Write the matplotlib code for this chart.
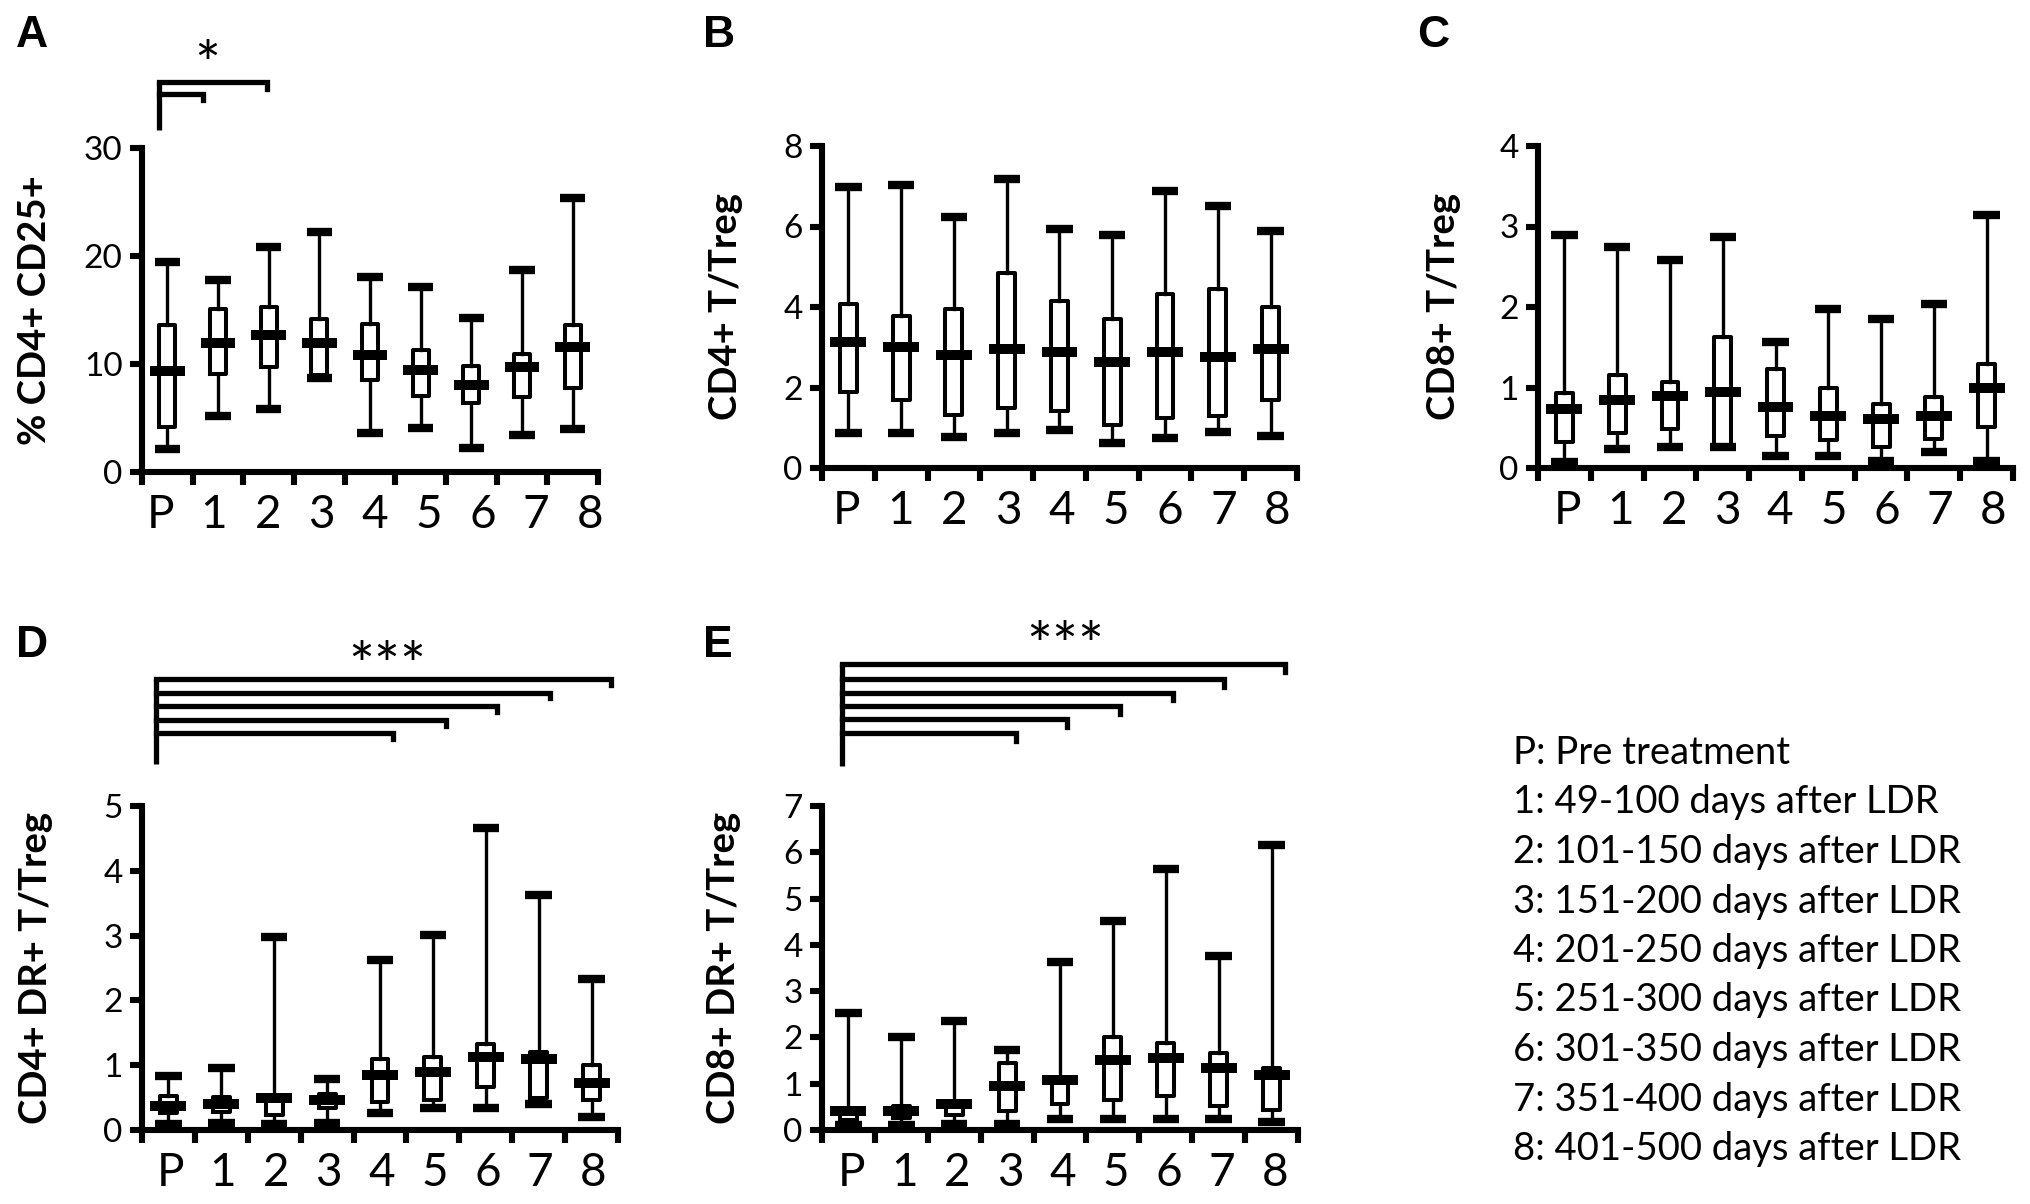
"""Box plots of Treg related T cell ratios before and after LDR (panels A-E)."""

import numpy as np
import matplotlib
matplotlib.use('Agg')
from matplotlib import pyplot as plt


# =============================================================================
# Data
# =============================================================================
groups = ['P', '1', '2', '3', '4', '5', '6', '7', '8']

# A: % CD4+ CD25+
a_low = [2.1, 5.2, 5.8, 8.7, 3.65, 4.05, 2.25, 3.4, 4.0]
a_q1 = [4.2, 9.1, 9.7, 9.0, 8.5, 7.05, 6.35, 6.95, 7.8]
a_med = [9.35, 11.9, 12.7, 11.9, 10.8, 9.45, 8.1, 9.7, 11.6]
a_q3 = [13.6, 15.1, 15.3, 14.2, 13.75, 11.3, 9.85, 10.9, 13.6]
a_high = [19.4, 17.8, 20.8, 22.2, 18.1, 17.1, 14.25, 18.7, 25.4]

# B: CD4+ T/Treg
b_low = [0.88, 0.88, 0.78, 0.88, 0.95, 0.62, 0.75, 0.9, 0.8]
b_q1 = [1.88, 1.7, 1.31, 1.48, 1.41, 1.06, 1.24, 1.28, 1.7]
b_med = [3.14, 3.0, 2.8, 2.96, 2.87, 2.63, 2.87, 2.76, 2.96]
b_q3 = [4.08, 3.78, 3.96, 4.85, 4.16, 3.71, 4.33, 4.44, 4.0]
b_high = [6.97, 7.03, 6.23, 7.18, 5.94, 5.79, 6.88, 6.5, 5.88]

# C: CD8+ T/Treg
c_low = [0.07, 0.24, 0.26, 0.26, 0.15, 0.15, 0.09, 0.2, 0.09]
c_q1 = [0.32, 0.44, 0.49, 0.28, 0.4, 0.35, 0.26, 0.36, 0.51]
c_med = [0.73, 0.85, 0.9, 0.94, 0.76, 0.65, 0.61, 0.65, 1.0]
c_q3 = [0.93, 1.15, 1.07, 1.63, 1.23, 1.0, 0.8, 0.88, 1.29]
c_high = [2.9, 2.74, 2.58, 2.87, 1.56, 1.98, 1.85, 2.04, 3.14]

# D: CD4+ DR+ T/Treg
d_low = [0.1, 0.11, 0.1, 0.11, 0.26, 0.34, 0.34, 0.4, 0.2]
d_q1 = [0.26, 0.28, 0.23, 0.34, 0.43, 0.46, 0.67, 0.49, 0.46]
d_med = [0.37, 0.4, 0.5, 0.46, 0.85, 0.89, 1.12, 1.09, 0.73]
d_q3 = [0.53, 0.51, 0.52, 0.55, 1.09, 1.12, 1.32, 1.2, 1.01]
d_high = [0.83, 0.95, 2.98, 0.79, 2.63, 3.01, 4.66, 3.62, 2.33]

# E: CD8+ DR+ T/Treg
e_low = [0.1, 0.1, 0.13, 0.13, 0.23, 0.23, 0.23, 0.23, 0.17]
e_q1 = [0.22, 0.27, 0.32, 0.4, 0.56, 0.65, 0.73, 0.52, 0.44]
e_med = [0.4, 0.4, 0.56, 0.94, 1.08, 1.52, 1.56, 1.35, 1.19]
e_q3 = [0.47, 0.52, 0.61, 1.44, 1.1, 2.02, 1.89, 1.66, 1.33]
e_high = [2.52, 2.02, 2.35, 1.73, 3.64, 4.51, 5.63, 3.76, 6.15]

# Significance brackets: compared group and bracket height
a_sig_groups = [2, 1]
a_sig_levels = [36.1, 35.0]
d_sig_groups = [8, 7, 6, 5, 4]
d_sig_levels = [6.96, 6.75, 6.54, 6.33, 6.13]
e_sig_groups = [8, 7, 6, 5, 4, 3]
e_sig_levels = [10.07, 9.74, 9.45, 9.16, 8.87, 8.58]

legend_lines = [
    'P: Pre treatment',
    '1: 49-100 days after LDR',
    '2: 101-150 days after LDR',
    '3: 151-200 days after LDR',
    '4: 201-250 days after LDR',
    '5: 251-300 days after LDR',
    '6: 301-350 days after LDR',
    '7: 351-400 days after LDR',
    '8: 401-500 days after LDR',
]


# =============================================================================
# Plot parameters
# =============================================================================
W, H = 2031, 1204
matplotlib.rcParams['font.family'] = ['Lato', 'DejaVu Sans']
matplotlib.rcParams['axes.spines.right'] = False
matplotlib.rcParams['axes.spines.top'] = False
axis_lw = 4.4
matplotlib.rcParams['axes.linewidth'] = axis_lw


def px_axes(fig, left, right, top, bottom):
    """Axes from pixel edges of the reference picture."""
    return fig.add_axes([left / W, 1 - bottom / H, (right - left) / W,
        (bottom - top) / H])


def draw_panel(ax, low, q1, med, q3, high, ymax, ystep, ylabel, label_x,
        lab_start=0.0, lab_step=1.0):
    pos = np.arange(len(groups))
    stats = []
    for i in range(len(groups)):
        stats.append({'whislo': low[i], 'q1': q1[i], 'med': med[i],
            'q3': q3[i], 'whishi': high[i], 'fliers': []})
    ax.bxp(stats, positions=pos, widths=0.32, capwidths=0.5,
        showfliers=False,
        boxprops=dict(color='k', linewidth=2.9),
        whiskerprops=dict(color='k', linewidth=2.4),
        capprops=dict(color='k', linewidth=6.0, solid_capstyle='butt'),
        medianprops=dict(linewidth=0))
    ax.hlines(med, pos - 0.34, pos + 0.34, color='k', linewidth=7.2)

    # x-axis: ticks between groups, labels under the groups
    ax.set_xlim(-0.5, len(groups) - 0.5)
    ax.set_xticks(np.arange(len(groups) + 1) - 0.5)
    ax.set_xticklabels([])
    ax.set_xticks(lab_start + lab_step * pos, minor=True)
    ax.set_xticklabels(groups, minor=True, fontsize=33)
    ax.tick_params(axis='x', which='major', direction='out', length=9,
        width=axis_lw)
    ax.tick_params(axis='x', which='minor', length=0, pad=16)

    # y-axis
    ax.set_ylim(0, ymax)
    ax.set_yticks(np.arange(0, ymax + ystep / 2, ystep))
    ax.tick_params(axis='y', direction='out', length=9, width=axis_lw,
        labelsize=24, pad=5)
    ax.set_ylabel(ylabel, fontsize=27.5, fontweight='bold')
    ax.yaxis.set_label_coords(label_x / W, ax.get_position().y0
        + ax.get_position().height / 2, transform=ax.figure.transFigure)


def draw_brackets(ax, start, bottom, sig_groups, levels, drop, ends):
    ax.plot([start, start], [bottom, max(levels)], color='k',
        linewidth=3.8, clip_on=False, solid_capstyle='butt')
    for end, lev in zip(ends, levels):
        ax.plot([start, end, end], [lev, lev, lev - drop], color='k',
            linewidth=3.8, clip_on=False, solid_joinstyle='miter')


# =============================================================================
# Figure
# =============================================================================
fig = plt.figure(figsize=(W / 100, H / 100), dpi=100)

ax_a = px_axes(fig, 142, 598, 148, 472)
ax_b = px_axes(fig, 822, 1297, 146, 468)
ax_c = px_axes(fig, 1538, 2013, 146, 468)
ax_d = px_axes(fig, 142, 618, 806, 1130)
ax_e = px_axes(fig, 822, 1298, 806, 1130)

draw_panel(ax_a, a_low, a_q1, a_med, a_q3, a_high, 30, 10,
    '% CD4+ CD25+', 52, -0.14, 1.06)
draw_panel(ax_b, b_low, b_q1, b_med, b_q3, b_high, 8, 2,
    'CD4+ T/Treg', 743, -0.03, 1.02)
draw_panel(ax_c, c_low, c_q1, c_med, c_q3, c_high, 4, 1,
    'CD8+ T/Treg', 1461, 0.05, 1.01)
draw_panel(ax_d, d_low, d_q1, d_med, d_q3, d_high, 5, 1,
    'CD4+ DR+ T/Treg', 53, 0.03, 1.0)
draw_panel(ax_e, e_low, e_q1, e_med, e_q3, e_high, 7, 1,
    'CD8+ DR+ T/Treg', 741, 0.06, 1.0)

# Significance brackets
draw_brackets(ax_a, -0.17, 31.65, a_sig_groups, a_sig_levels, 0.6,
    [1.96, 0.71])
ax_a.text(0.79, 37.4, '*', ha='center', va='center', fontsize=44,
    clip_on=False)
draw_brackets(ax_d, -0.23, 5.65, d_sig_groups, d_sig_levels, 0.09,
    [8.37, 7.21, 6.22, 5.24, 4.25])
ax_d.text(4.14, 7.1, '***', ha='center', va='center', fontsize=44,
    clip_on=False)
draw_brackets(ax_e, -0.13, 7.87, e_sig_groups, e_sig_levels, 0.17,
    [8.25, 7.11, 6.14, 5.14, 4.14, 3.16])
ax_e.text(4.1, 10.39, '***', ha='center', va='center', fontsize=44,
    clip_on=False)

# Panel letters
for letter, x, y in [('A', 16, 47), ('B', 703, 47), ('C', 1417, 47),
        ('D', 16, 657), ('E', 703, 657)]:
    fig.text(x / W, 1 - y / H, letter, fontsize=32, fontweight='bold',
        family='Liberation Sans', va='baseline', ha='left')

# Group legend
for i, line in enumerate(legend_lines):
    fig.text(1513 / W, 1 - (753 + 49.5 * i) / H, line, fontsize=27.5,
        va='center', ha='left')

fig.savefig('out.png', dpi=100)
plt.close()
